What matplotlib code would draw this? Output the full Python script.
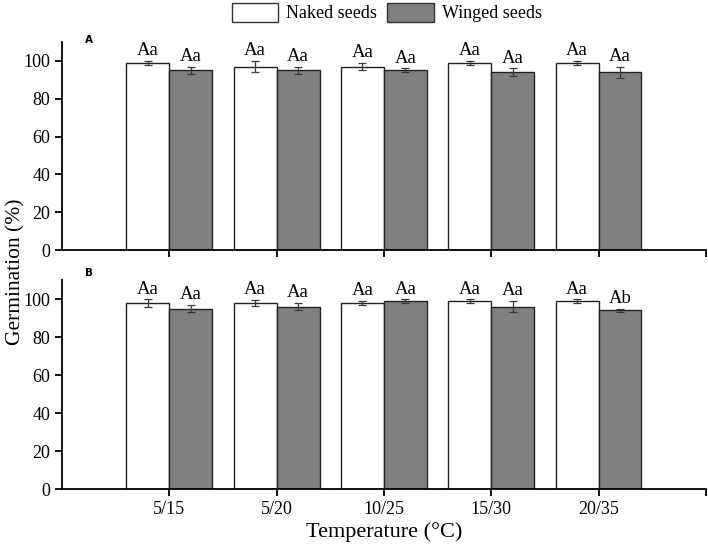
import matplotlib
matplotlib.use("Agg")
import matplotlib.pyplot as plt
import numpy as np
from matplotlib.patches import Patch

plt.rcParams['font.family'] = ['Liberation Serif', 'DejaVu Serif']

temps = ["5/15", "5/20", "10/25", "15/30", "20/35"]

# panel A
naked_a = [99, 97, 97, 99, 99]
naked_a_err = [1, 3, 2, 1, 1]
winged_a = [95, 95, 95, 94, 94]
winged_a_err = [2, 2, 1, 2, 3]
lab_naked_a = ["Aa", "Aa", "Aa", "Aa", "Aa"]
lab_winged_a = ["Aa", "Aa", "Aa", "Aa", "Aa"]

# panel B
naked_b = [98, 98, 98, 99, 99]
naked_b_err = [2, 1.5, 1, 1, 1]
winged_b = [95, 96, 99, 96, 94]
winged_b_err = [2, 2, 1, 3, 1]
lab_naked_b = ["Aa", "Aa", "Aa", "Aa", "Aa"]
lab_winged_b = ["Aa", "Aa", "Aa", "Aa", "Ab"]

fig = plt.figure(figsize=(7.08, 5.44), dpi=100)
axA = fig.add_axes([0.0876, 0.5404, 0.9094, 0.3824])
axB = fig.add_axes([0.0876, 0.1005, 0.9094, 0.3848])

x = np.arange(1, len(temps) + 1)
w = 0.4
ekw = dict(ecolor='#3a3a3a', elinewidth=0.9, capsize=3, capthick=0.9)


def panel(ax, nk, nke, wg, wge, ln, lw, tag, tag_y, show_labels):
    ax.bar(x - w / 2, nk, w, yerr=nke, color='white', edgecolor='#222222',
           linewidth=1.0, error_kw=ekw)
    ax.bar(x + w / 2, wg, w, yerr=wge, color='#808080', edgecolor='#222222',
           linewidth=1.0, error_kw=ekw)
    for i in range(len(x)):
        ax.text(x[i] - w / 2, nk[i] + nke[i] + 0.8, ln[i], ha='center',
                va='bottom', fontsize=13.5)
        ax.text(x[i] + w / 2, wg[i] + wge[i] + 0.8, lw[i], ha='center',
                va='bottom', fontsize=13.5)
    ax.set_xlim(0, 6)
    ax.set_ylim(0, 110)
    ax.set_yticks([0, 20, 40, 60, 80, 100])
    ax.set_xticks([1, 2, 3, 4, 5, 6])
    if show_labels:
        ax.set_xticklabels(temps + [""])
    else:
        ax.set_xticklabels([])
    for s in ['top', 'right']:
        ax.spines[s].set_visible(False)
    for s in ['left', 'bottom']:
        ax.spines[s].set_linewidth(1.3)
    ax.tick_params(direction='out', length=5, width=1.3, labelsize=13)
    ax.text(0.035, tag_y, tag, transform=ax.transAxes, fontsize=7.5,
            fontweight='bold', family='DejaVu Sans', va='center')


panel(axA, naked_a, naked_a_err, winged_a, winged_a_err,
      lab_naked_a, lab_winged_a, "A", 1.01, False)
panel(axB, naked_b, naked_b_err, winged_b, winged_b_err,
      lab_naked_b, lab_winged_b, "B", 1.035, True)

axB.set_xlabel("Temperature (\u00b0C)", fontsize=16, labelpad=3)
fig.text(0.022, 0.5, "Germination (%)", rotation=90, fontsize=15.5,
         ha='center', va='center')

handles = [Patch(facecolor='white', edgecolor='#333333', linewidth=1.0),
           Patch(facecolor='#808080', edgecolor='#333333', linewidth=1.0)]
fig.legend(handles, ["Naked seeds", "Winged seeds"], loc='center',
           bbox_to_anchor=(0.546, 0.977), ncol=2, frameon=False, fontsize=13,
           handlelength=2.6, handleheight=1.3, handletextpad=0.4,
           columnspacing=0.6, borderpad=0.1)

fig.savefig("out.png", dpi=100)
